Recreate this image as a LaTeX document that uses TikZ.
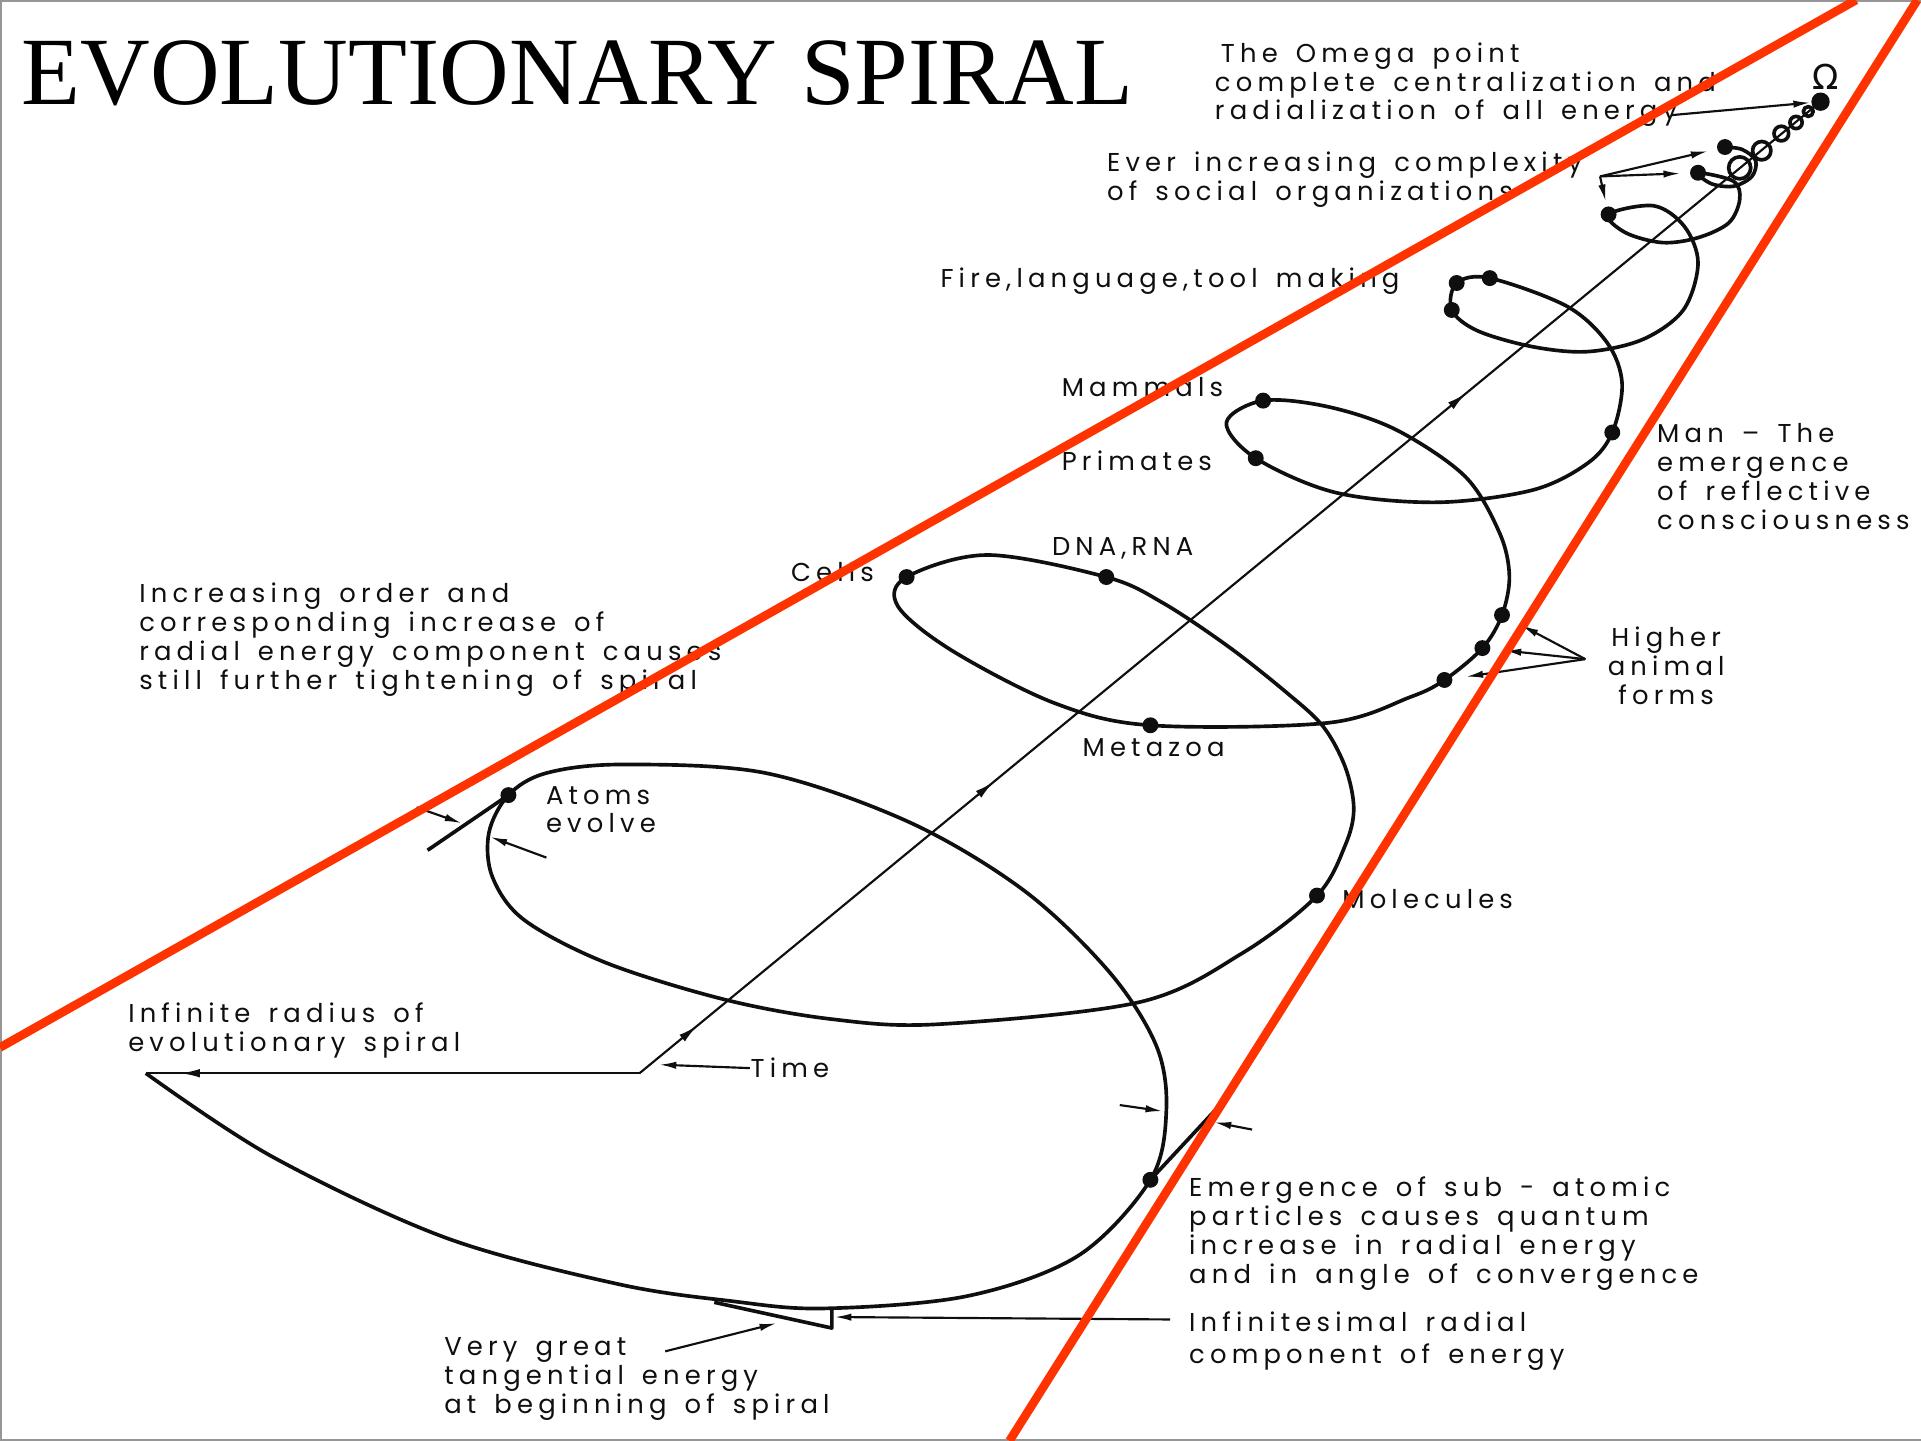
\documentclass[tikz,border=0pt]{standalone}
\usepackage{fontspec}
\setmainfont{Liberation Serif}
\newfontfamily\letteringfont[LetterSpace=20, WordSpace=1.5]{Poppins}
\newfontfamily\omegafont{DejaVu Sans}
\usetikzlibrary{arrows.meta, decorations.markings}
\definecolor{markerRed}{RGB}{255,51,0}
\definecolor{frameGray}{RGB}{150,150,150}
\definecolor{inkBlack}{RGB}{15,15,15}
\newcommand{\notefont}{\letteringfont\fontsize{6.0}{6.7}\selectfont\lineskiplimit -10pt\relax}
\newcommand{\widenotefont}{\letteringfont\fontsize{6.0}{7.4}\selectfont\lineskiplimit -10pt\relax}
\tikzset{
    notetext/.style={
        anchor=north west,
        inner sep=0pt,
        align=left,
        text=inkBlack,
        font=\notefont
    },
    stagedot/.style={circle, fill=inkBlack, inner sep=0pt, minimum size=1.3mm},
    spiralline/.style={draw=inkBlack, line width=0.85pt, line join=round},
    axisline/.style={draw=inkBlack, line width=0.5pt},
    pointarrow/.style={-{Latex[length=1.4mm, width=0.6mm]}, draw=inkBlack, line width=0.5pt},
    redline/.style={draw=markerRed, line width=2pt},
    frameline/.style={draw=frameGray, line width=0.5pt},
    timemarks/.style={
        postaction={decorate},
        decoration={markings,
            mark=at position 0.049 with {\arrow{Latex[length=1.6mm, width=0.7mm]}},
            mark=at position 0.30 with {\arrow{Latex[length=1.6mm, width=0.7mm]}},
            mark=at position 0.70 with {\arrow{Latex[length=1.6mm, width=0.7mm]}}}
    },
    startmark/.style={
        postaction={decorate},
        decoration={markings,
            mark=at position 0.93 with {\arrow{Latex[length=1.6mm, width=0.7mm]}}}
    }
}

\begin{document}
\begin{tikzpicture}[x=0.1mm, y=-0.1mm]
    \useasboundingbox (0,0) rectangle (1568,1176);
    \draw[frameline] (1568,0.6) -- (0.6,0.6) -- (0.6,1175.4) -- (1568,1175.4);

    \node[anchor=base west, inner sep=0pt, font=\fontsize{22.4}{24}\selectfont] (title) at (17,85) {EVOLUTIONARY SPIRAL};

    \draw[spiralline] plot[smooth, tension=0.55] coordinates {
        (119,876) (222,944) (363,1010) (504,1048) (597,1062) (672,1068) (789,1058) (880,1025)
        (939,963) (952,907) (944,854) (906,794) (836,727) (742,671) (625,631) (508,624) (446,631)
        (415,649) (399,680) (402,716) (428,751) (495,786) (592,816) (680,832) (766,836) (930,818)
        (1014,778) (1075,731) (1098,690) (1105,660) (1098,626) (1080,593) (1051,566) (1003,528)
        (949,492) (903,471) (806,453) (740,471) (733,495) (777,531) (861,574) (939,592) (1084,590)
        (1151,569) (1179,555) (1210,529) (1226,502) (1232,470) (1224,435) (1196,389) (1140,351)
        (1084,332) (1031,327) (1001,345) (1025,374) (1090,402) (1173,410) (1251,400) (1296,378)
        (1316,353) (1324,313) (1312,280) (1279,250) (1216,227) (1189,231) (1185,253) (1206,270)
        (1251,283) (1296,287) (1341,277) (1374,253) (1386,215) (1375,185) (1350,168) (1313,175)
        (1327,190) (1357,198) (1386,194) (1411,182) (1420,163) (1415,148) (1386,141) (1397,150)
        (1415,152) (1430,144) (1433,131) (1422,122) (1408,120)};
    \foreach \cx/\cy/\r in {1420/137/9, 1438/123/7.5, 1454/109/6, 1466/100/5, 1476/91/4}
        \draw[spiralline] (\cx,\cy) circle[radius=\r];

    \node[stagedot, minimum size=1.5mm] (dOmega) at (1486,83) {};
    \node[stagedot] (dSocC) at (1408,120) {};
    \node[stagedot] (dSocB) at (1386,141) {};
    \node[stagedot] (dSocA) at (1313,175) {};
    \node[stagedot] (dFireA) at (1216,227) {};
    \node[stagedot] (dFireB) at (1189,231) {};
    \node[stagedot] (dFireC) at (1185,253) {};
    \node[stagedot] (dMan) at (1316,353) {};
    \node[stagedot] (dMammals) at (1031,327) {};
    \node[stagedot] (dPrimates) at (1025,374) {};
    \node[stagedot] (dHighA) at (1226,502) {};
    \node[stagedot] (dHighB) at (1210,529) {};
    \node[stagedot] (dHighC) at (1179,555) {};
    \node[stagedot] (dDNA) at (903,471) {};
    \node[stagedot] (dCells) at (740,471) {};
    \node[stagedot] (dMetazoa) at (939,592) {};
    \node[stagedot] (dAtoms) at (415,649) {};
    \node[stagedot] (dMolecules) at (1075,731) {};
    \node[stagedot] (dEmergence) at (939,963) {};

    \coordinate (timeCorner) at (522,876);
    \coordinate (spiralStart) at (119,876);
    \draw[axisline, timemarks] (timeCorner) -- (dOmega.center);
    \draw[axisline, startmark] (timeCorner) -- (spiralStart);

    \coordinate (atomsTan) at (349,694);
    \coordinate (emergTan) at (993,905);
    \coordinate (tanStart) at (583,1063);
    \coordinate (tanEnd) at (679,1084);
    \coordinate (radEnd) at (679,1067);
    \draw[spiralline] (dAtoms.center) -- (atomsTan);
    \draw[spiralline] (dEmergence.center) -- (emergTan);
    \draw[spiralline] (tanStart) -- (tanEnd) -- (radEnd);

    \node[notetext] (omegaText) at (991,34) {\hspace*{1.4pt}The Omega point\\complete centralization and\\radialization of all energy};
    \node[inner sep=0pt, text=inkBlack, font=\omegafont\fontsize{8}{8}\selectfont] (omega) at (1490,63) {Ω};
    \node[notetext] (socialText) at (903,123) {Ever increasing complexity\\of social organizations};
    \node[notetext] (fireText) at (767,218) {Fire,language,tool making};
    \node[notetext] (mammals) at (866,307) {Mammals};
    \node[notetext] (primates) at (866,367) {Primates};
    \node[notetext] (man) at (1352,345) {Man – The\\emergence\\of reflective\\consciousness};
    \node[notetext] (dnaText) at (858,438) {DNA,RNA};
    \node[notetext] (cells) at (645,458) {Cells};
    \node[notetext] (orderText) at (113,475) {Increasing order and\\corresponding increase of\\radial energy component causes\\still further tightening of spiral};
    \node[notetext, anchor=north, align=center] (higher) at (1360,511) {Higher\\animal\\forms};
    \node[notetext] (metazoa) at (883,602) {Metazoa};
    \node[notetext] (atoms) at (445,641) {Atoms\\evolve};
    \node[notetext] (molecules) at (1095,725) {Molecules};
    \node[notetext] (infinite) at (104,818) {Infinite radius of\\evolutionary spiral};
    \node[notetext] (timeText) at (612,863) {Time};
    \node[notetext] (emergence) at (970,960) {Emergence of sub - atomic\\particles causes quantum\\increase in radial energy\\and in angle of convergence};
    \node[notetext, font=\widenotefont] (infinitesimal) at (970,1070) {Infinitesimal radial\\component of energy};
    \node[notetext] (tangential) at (362,1091) {Very great\\tangential energy\\at beginning of spiral};

    \coordinate (omegaTail) at (1364,94);
    \draw[pointarrow] (omegaTail) -- (dOmega);
    \coordinate (socFork) at (1306,144);
    \draw[pointarrow, shorten >=2pt] (socFork) -- (dSocC);
    \draw[pointarrow, shorten >=2pt] (socFork) -- (dSocB);
    \draw[pointarrow, shorten >=1pt] (socFork) -- (dSocA);
    \coordinate (highFork) at (1294,538);
    \draw[pointarrow, shorten >=3pt] (highFork) -- (dHighA);
    \draw[pointarrow, shorten >=3pt] (highFork) -- (dHighB);
    \draw[pointarrow, shorten >=3pt] (highFork) -- (dHighC);
    \coordinate (timeTip) at (538,869);
    \draw[pointarrow] (timeText.west) -- (timeTip);
    \coordinate (atomsOutTail) at (340,659);
    \coordinate (atomsOutTip) at (377,672);
    \coordinate (atomsInTail) at (446,700);
    \coordinate (atomsInTip) at (400,683);
    \draw[pointarrow] (atomsOutTail) -- (atomsOutTip);
    \draw[pointarrow] (atomsInTail) -- (atomsInTip);
    \coordinate (emergInTail) at (914,902);
    \coordinate (emergInTip) at (949,907);
    \coordinate (emergOutTail) at (1022,922);
    \coordinate (emergOutTip) at (991,916);
    \draw[pointarrow] (emergInTail) -- (emergInTip);
    \draw[pointarrow] (emergOutTail) -- (emergOutTip);
    \coordinate (radialTail) at (955,1077);
    \coordinate (radialTip) at (681,1075);
    \draw[pointarrow] (radialTail) -- (radialTip);
    \coordinate (tangTail) at (543,1103);
    \coordinate (tangTip) at (634,1080);
    \draw[pointarrow] (tangTail) -- (tangTip);

    \draw[redline] (0,855) -- (1515,0);
    \draw[redline] (824,1176) -- (1565,0);
\end{tikzpicture}
\end{document}
